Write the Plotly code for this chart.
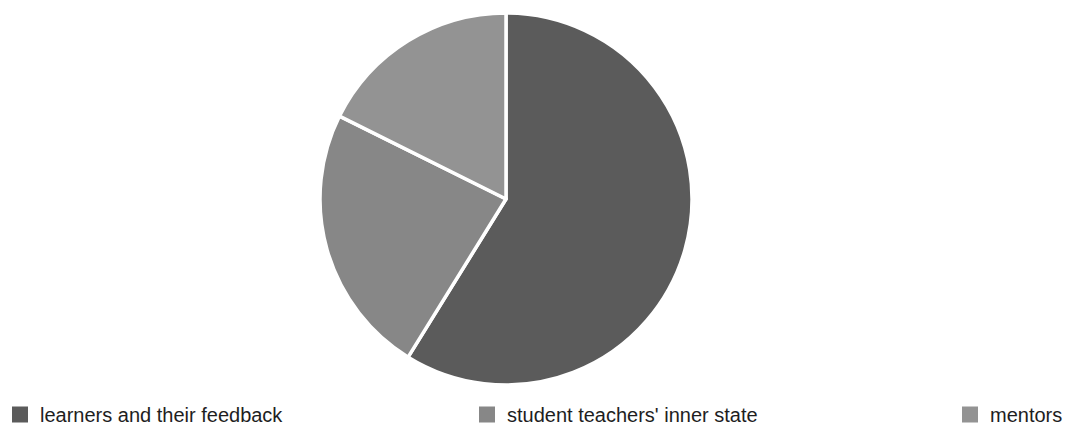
import plotly.graph_objects as go

labels = ["learners and their feedback", "student teachers' inner state", "mentors"]
values = [10, 4, 3]
colors = ["#5b5b5b", "#878787", "#939393"]

fig = go.Figure()
fig.add_trace(go.Pie(
    labels=labels,
    values=values,
    sort=False,
    direction="clockwise",
    rotation=0,
    textinfo="none",
    hoverinfo="label+percent",
    showlegend=False,
    marker=dict(colors=colors, line=dict(color="white", width=3.5)),
    domain=dict(x=[320/1090, 692/1090], y=[49/434, 421/434]),
))

legend_names = ["legend", "legend2", "legend3"]
legend_x = [0.0, 467/1090, 950/1090]
for lab, col, lg in zip(labels, colors, legend_names):
    fig.add_trace(go.Scatter(
        x=[None], y=[None], mode="markers", name=lab,
        marker=dict(symbol="square", size=16, color=col),
        legend=lg, showlegend=True, hoverinfo="skip",
    ))

legend_font = dict(family="Liberation Sans, Arial, sans-serif", size=20, color="#1e1e1e")
common = dict(orientation="h", xanchor="left", y=0, yanchor="bottom",
              font=legend_font, bgcolor="rgba(0,0,0,0)", itemclick=False)

fig.update_layout(
    width=1090, height=434,
    margin=dict(l=0, r=0, t=0, b=0),
    paper_bgcolor="white",
    plot_bgcolor="white",
    xaxis=dict(visible=False),
    yaxis=dict(visible=False),
    legend=dict(x=legend_x[0], **common),
    legend2=dict(x=legend_x[1], **common),
    legend3=dict(x=legend_x[2], **common),
)

fig.write_html("out.html")
